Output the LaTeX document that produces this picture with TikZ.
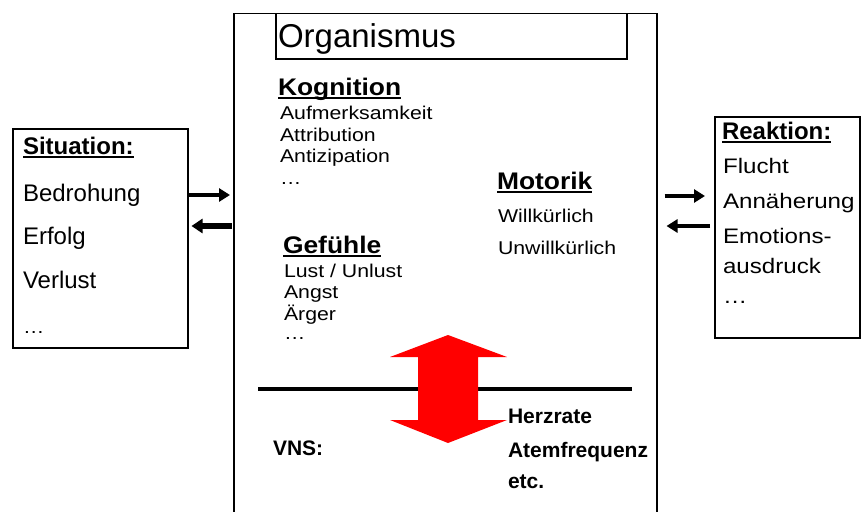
\documentclass[tikz,border=0pt]{standalone}
\usepackage{fontspec}
\setmainfont{Liberation Sans}
\newfontfamily\hdfont[FakeStretch=1.1]{Liberation Sans}
\newfontfamily\lsfont[FakeStretch=1.15]{Liberation Sans}
\usetikzlibrary{arrows.meta}

% heading with a heavy underline just below the baseline
\newcommand\hdul[1]{\setbox0\hbox{#1}\rlap{\rule[-3.5pt]{\wd0}{1.8pt}}\box0}

\begin{document}
\begin{tikzpicture}[x=1pt,y=-1pt,
  box/.style={draw, line width=1.5pt, inner sep=0pt, anchor=north west},
  txt/.style={anchor=base west, inner sep=0pt, outer sep=0pt},
  big/.style={txt, font=\fontsize{24}{28}\selectfont},
  bighd/.style={txt, font=\fontsize{24}{28}\selectfont\bfseries},
  widehd/.style={txt, font=\hdfont\fontsize{24}{28}\selectfont\bfseries},
  item/.style={txt, font=\lsfont\fontsize{18.5}{22}\selectfont},
  ritem/.style={txt, font=\lsfont\fontsize{21}{24}\selectfont},
  vns/.style={txt, font=\fontsize{21}{24}\selectfont\bfseries},
  flow/.style={line width=4.5pt, -{Triangle[length=11pt,width=13pt]}},
  flowb/.style={line width=5.5pt, -{Triangle[length=11pt,width=14pt]}},
]
\useasboundingbox (0,0) rectangle (861,511);
\clip (0,0) rectangle (861,511);

% boxes
\node[box, minimum width=175pt, minimum height=219pt] (sit) at (12,128) {};
\node[box, minimum width=423pt, minimum height=540pt] (org) at (233,13) {};
\node[box, minimum width=351pt, minimum height=45pt] (title) at (275,13) {};
\node[box, minimum width=145pt, minimum height=221pt] (reak) at (714,116) {};

% Situation
\node[bighd] (sith) at (23,154) {\hdul{Situation:}};
\node[big] (s1) at (23,201) {Bedrohung};
\node[big] (s2) at (23,244) {Erfolg};
\node[big] (s3) at (23,288) {Verlust};
\node[item] (s4) at (23,333) {…};

% Organismus
\node[txt, font=\fontsize{33}{36}\selectfont] (orgt) at (278,48) {Organismus};

\node[widehd] (kog) at (278,95) {\hdul{Kognition}};
\node[item] (k1) at (280,119) {Aufmerksamkeit};
\node[item] (k2) at (280,141) {Attribution};
\node[item] (k3) at (280,162) {Antizipation};
\node[item] (k4) at (280,184) {…};

\node[widehd] (gef) at (283,253) {\hdul{Gefühle}};
\node[item] (g1) at (284,277) {Lust / Unlust};
\node[item] (g2) at (284,298) {Angst};
\node[item] (g3) at (284,320) {Ärger};
\node[item] (g4) at (284,339) {…};

\node[widehd] (mot) at (497,189) {\hdul{Motorik}};
\node[item] (m1) at (498,222) {Willkürlich};
\node[item] (m2) at (498,254) {Unwillkürlich};

% autonomic level
\coordinate (lineL) at (258,389);
\coordinate (lineR) at (632,389);
\draw[line width=4pt] (lineL) -- (lineR);
\fill[red] (448,335) -- (507,357) -- (478,357) -- (478,420) -- (507,420)
  -- (448,443) -- (390,420) -- (418,420) -- (418,357) -- (390,357) -- cycle;

\node[vns] (vn) at (273,455) {VNS:};
\node[vns] (v1) at (508,423) {Herzrate};
\node[vns] (v2) at (508,457) {Atemfrequenz};
\node[vns] (v3) at (508,488) {etc.};

% Reaktion
\node[bighd] (reh) at (722,139) {\hdul{Reaktion:}};
\node[ritem] (r1) at (723,173) {Flucht};
\node[ritem] (r2) at (723,208) {Annäherung};
\node[ritem] (r3) at (723,243) {Emotions-};
\node[ritem] (r4) at (723,273) {ausdruck};
\node[ritem] (r5) at (723,303) {…};

% exchange arrows
\draw[flow, shorten >=3pt] (sit.east |- 0,195) -- (org.west |- 0,195);
\draw[flowb, shorten <=1pt, shorten >=3pt] (org.west |- 0,226) -- (sit.east |- 0,226);
\draw[flow, shorten <=7pt, shorten >=9pt] (org.east |- 0,196) -- (reak.west |- 0,196);
\draw[flow, shorten <=4pt, shorten >=9pt] (reak.west |- 0,226) -- (org.east |- 0,226);
\end{tikzpicture}
\end{document}
